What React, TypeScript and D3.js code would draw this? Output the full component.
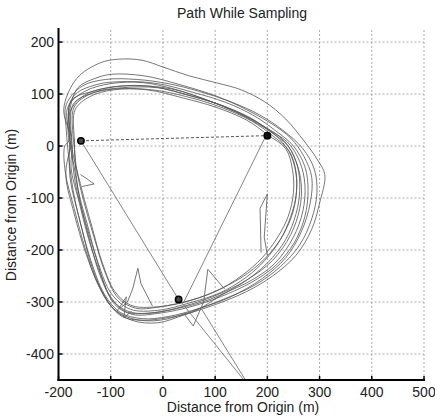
import React from "react";
import * as d3 from "d3";

type P = [number, number];

const title = "Path While Sampling";
const xLabel = "Distance from Origin (m)";
const yLabel = "Distance from Origin (m)";
const xTicks = [-200, -100, 0, 100, 200, 300, 400, 500];
const yTicks = [200, 100, 0, -100, -200, -300, -400];

const lapA: P[] = [[-175, 20], [-190, 70], [-165, 130], [-120, 160], [-85, 167], [-40, 165], [0, 152], [50, 135], [105, 121], [150, 108], [195, 85], [235, 52], [270, 10], [295, -25], [310, -55], [300, -110], [285, -160], [255, -210], [210, -250], [160, -280], [100, -305], [40, -325], [-10, -340], [-60, -335], [-98, -310], [-125, -265], [-148, -200], [-170, -120], [-187, -50], [-188, 0]];
const lapB: P[] = [[-180, 10], [-180, 60], [-163, 112], [-130, 130], [-99, 138], [-36, 135], [29, 119], [105, 95], [160, 70], [205, 45], [245, 15], [270, -20], [285, -60], [282, -110], [265, -165], [235, -215], [190, -255], [130, -290], [70, -312], [10, -328], [-40, -332], [-82, -320], [-112, -285], [-138, -220], [-160, -140], [-178, -60]];
const lapC: P[] = [[-178, 20], [-176, 87], [-132, 106], [-86, 115], [-23, 115], [40, 100], [105, 81], [168, 54], [205, 28], [240, 0], [258, -40], [262, -85], [255, -130], [235, -180], [200, -225], [150, -265], [90, -295], [30, -312], [-30, -322], [-72, -318], [-105, -282], [-128, -215], [-150, -140], [-168, -70]];
const lapD: P[] = [[-175, 10], [-172, 80], [-140, 100], [-90, 110], [-20, 108], [45, 95], [110, 75], [170, 48], [210, 20], [242, -10], [255, -50], [255, -95], [245, -135], [225, -180], [195, -220], [160, -252], [110, -282], [50, -302], [-10, -316], [-62, -314], [-98, -285], [-124, -225], [-145, -150], [-163, -80]];
const lapE: P[] = [[-170, 15], [-168, 70], [-140, 95], [-95, 108], [-30, 108], [40, 92], [100, 75], [160, 50], [200, 22], [235, -5], [248, -45], [250, -90], [240, -135], [220, -175], [190, -215], [150, -250], [100, -280], [40, -300], [-20, -310], [-62, -306], [-92, -280], [-116, -225], [-136, -155], [-155, -85]];
const lapF: P[] = [[-180, 25], [-182, 75], [-150, 105], [-100, 120], [-40, 122], [20, 110], [80, 90], [140, 65], [195, 35], [238, 8], [262, -30], [272, -75], [268, -125], [250, -175], [215, -225], [170, -258], [115, -285], [60, -318], [10, -330], [-40, -335], [-78, -328], [-108, -295], [-135, -235], [-155, -160], [-172, -85]];
const lapG: P[] = [[-185, 30], [-185, 80], [-155, 115], [-110, 128], [-50, 128], [10, 120], [70, 105], [130, 85], [185, 60], [230, 30], [268, -5], [290, -45], [295, -90], [285, -140], [262, -190], [225, -232], [175, -268], [115, -295], [55, -318], [-5, -335], [-55, -333], [-92, -315], [-122, -270], [-148, -205], [-170, -130], [-186, -55]];
const lapH: P[] = [[-176, 10], [-178, 65], [-150, 98], [-105, 112], [-50, 116], [15, 110], [75, 92], [135, 68], [190, 40], [232, 10], [255, -30], [265, -75], [262, -120], [245, -170], [210, -220], [160, -258], [100, -288], [40, -308], [-15, -320], [-60, -320], [-94, -300], [-120, -250], [-142, -175], [-158, -110], [-170, -40]];
const lapI: P[] = [[-182, 35], [-172, 95], [-128, 118], [-70, 124], [-10, 120], [55, 104], [120, 84], [175, 58], [215, 30], [250, 0], [272, -40], [278, -85], [272, -135], [252, -185], [218, -228], [170, -262], [110, -290], [50, -310], [-10, -322], [-58, -324], [-92, -305], [-118, -250], [-142, -180], [-160, -110], [-176, -40]];
const lapJ: P[] = [[-172, 5], [-170, 75], [-135, 102], [-80, 112], [-10, 112], [55, 96], [118, 76], [180, 46], [222, 15], [246, -20], [256, -65], [252, -115], [236, -160], [206, -205], [162, -245], [110, -275], [50, -298], [-10, -310], [-52, -312], [-86, -292], [-110, -245], [-132, -175], [-152, -105], [-166, -40], [-170, 15]];
const laps: P[][] = [lapA, lapB, lapC, lapD, lapE, lapF, lapG, lapH, lapI, lapJ];

const spikeRight: P[] = [[188, -205], [186, -120], [200, -92], [194, -175], [200, -210]];
const spikeLeft: P[] = [[-158, -55], [-147, -62], [-132, -73], [-155, -78]];
const spikeBottomLeft: P[] = [[-20, -308], [-42, -265], [-48, -235], [-58, -275], [-68, -300], [-82, -312]];
const spikeBottomRight: P[] = [[118, -275], [86, -237], [78, -300], [58, -346], [40, -322]];
const spikeLeftLow: P[] = [[-60, -318], [-75, -330], [-70, -290], [-88, -318]];
const spikes: P[][] = [spikeRight, spikeLeft, spikeBottomLeft, spikeBottomRight, spikeLeftLow];

const straightSegs: [P, P][] = [
  [[-157, 10], [30, -295]],
  [[195, 15], [40, -300]],
  [[35, -300], [155, -450]],
  [[75, -315], [158, -450]],
];
const dashedSeg: [P, P] = [[-157, 10], [200, 20]];
const markers: P[] = [[-157, 10], [200, 20], [30, -295]];

const W = 435;
const H = 419;
const left = 58.5;
const right = 424;
const top = 28;
const bottom = 380;

export default function App() {
  const x = d3.scaleLinear().domain([-200, 500]).range([left, right]);
  const y = d3.scaleLinear().domain([-450, 227]).range([bottom, top]);
  const trackPts: P[] = laps.flat();
  const smooth = d3
    .line<P>()
    .x((d) => x(d[0]))
    .y((d) => y(d[1]))
    .curve(d3.curveCatmullRom.alpha(0.5));
  const straight = d3
    .line<P>()
    .x((d) => x(d[0]))
    .y((d) => y(d[1]));
  const font = "'Liberation Sans', Arial, sans-serif";
  return (
    <svg width={W} height={H} style={{ position: "absolute", left: 0, top: 0, background: "#fff" }}>
      <rect x={0} y={0} width={W} height={H} fill="#fff" />
      {xTicks.map((t) => (
        <line key={"gx" + t} x1={x(t)} x2={x(t)} y1={bottom} y2={top} stroke="#aaa" strokeWidth={1} strokeDasharray="2,2" />
      ))}
      {yTicks.map((t) => (
        <line key={"gy" + t} x1={left} x2={right} y1={y(t)} y2={y(t)} stroke="#aaa" strokeWidth={1} strokeDasharray="2,2" />
      ))}
      <path d={smooth(trackPts) || ""} fill="none" stroke="#555" strokeWidth={1} strokeOpacity={0.8} />
      {spikes.map((s, i) => (
        <path key={"sp" + i} d={straight(s) || ""} fill="none" stroke="#666" strokeWidth={0.9} />
      ))}
      {straightSegs.map((s, i) => (
        <line key={"s" + i} x1={x(s[0][0])} y1={y(s[0][1])} x2={x(s[1][0])} y2={y(s[1][1])} stroke="#777" strokeWidth={0.9} />
      ))}
      <line x1={x(dashedSeg[0][0])} y1={y(dashedSeg[0][1])} x2={x(dashedSeg[1][0])} y2={y(dashedSeg[1][1])} stroke="#555" strokeWidth={1} strokeDasharray="3,2" />
      {markers.map((m, i) => (
        <circle key={"m" + i} cx={x(m[0])} cy={y(m[1])} r={3.2} fill={i === 1 ? "#111" : "#444"} stroke="#000" strokeWidth={1.5} />
      ))}
      <line x1={left} x2={left} y1={top} y2={bottom + 1} stroke="#000" strokeWidth={2} />
      <line x1={left - 1} x2={right + 1} y1={bottom} y2={bottom} stroke="#000" strokeWidth={2} />
      {xTicks.map((t) => (
        <g key={"xt" + t}>
          <line x1={x(t)} x2={x(t)} y1={bottom} y2={bottom - 4} stroke="#000" strokeWidth={1.5} />
          <text x={x(t)} y={397} textAnchor="middle" fontFamily={font} fontSize={14} fill="#222">
            {t}
          </text>
        </g>
      ))}
      {yTicks.map((t) => (
        <g key={"yt" + t}>
          <line x1={left} x2={left + 4} y1={y(t)} y2={y(t)} stroke="#000" strokeWidth={1.5} />
          <text x={54} y={y(t) + 5} textAnchor="end" fontFamily={font} fontSize={14} fill="#222">
            {t}
          </text>
        </g>
      ))}
      <text x={242} y={18} textAnchor="middle" fontFamily={font} fontSize={14} fill="#222">
        {title}
      </text>
      <text x={243} y={412} textAnchor="middle" fontFamily={font} fontSize={14} fill="#222">
        {xLabel}
      </text>
      <text transform={`translate(16,205) rotate(-90)`} textAnchor="middle" fontFamily={font} fontSize={14} fill="#222">
        {yLabel}
      </text>
    </svg>
  );
}
